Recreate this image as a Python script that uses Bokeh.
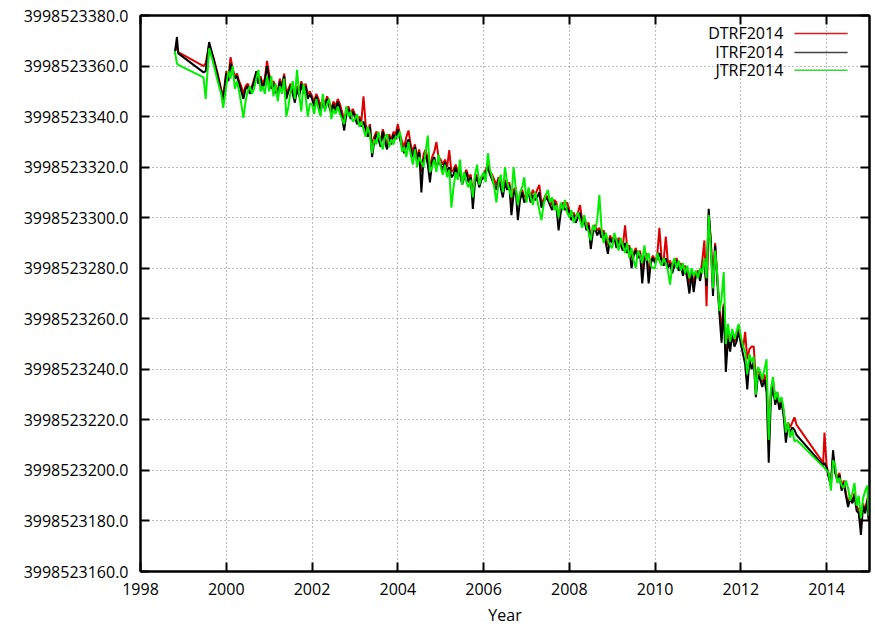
from bokeh.plotting import figure
from bokeh.models import (Range1d, FixedTicker, LinearAxis, CustomJSTickFormatter, Label, Arrow,
                          CustomLabelingPolicy)
from bokeh.embed import file_html
from bokeh.resources import INLINE
import numpy as np

BASE = 3998523000.0  # offsets below are in the same units as the axis, relative to BASE

X_TICKS = [1998, 2000, 2002, 2004, 2006, 2008, 2010, 2012, 2014]
Y_TICKS = [3998523160, 3998523180, 3998523200, 3998523220, 3998523240, 3998523260,
           3998523280, 3998523300, 3998523320, 3998523340, 3998523360, 3998523380]

YEARS = [
    1998.80, 1998.85, 1998.88, 1999.47, 1999.52, 1999.60, 1999.70, 1999.80, 1999.88, 1999.93,
    2000.00, 2000.05, 2000.10, 2000.15, 2000.20, 2000.25, 2000.30, 2000.35, 2000.40, 2000.45,
    2000.50, 2000.55, 2000.60, 2000.65, 2000.70, 2000.75, 2000.80, 2000.85, 2000.90, 2000.95,
    2001.00, 2001.05, 2001.10, 2001.15, 2001.20, 2001.25, 2001.30, 2001.35, 2001.40, 2001.45,
    2001.50, 2001.55, 2001.60, 2001.65, 2001.70, 2001.75, 2001.80, 2001.85, 2001.90, 2001.95,
    2002.00, 2002.05, 2002.10, 2002.15, 2002.20, 2002.25, 2002.30, 2002.35, 2002.40, 2002.45,
    2002.50, 2002.55, 2002.60, 2002.65, 2002.70, 2002.75, 2002.80, 2002.85, 2002.90, 2002.95,
    2003.00, 2003.05, 2003.10, 2003.15, 2003.20, 2003.25, 2003.30, 2003.35, 2003.40, 2003.45,
    2003.50, 2003.55, 2003.60, 2003.65, 2003.70, 2003.75, 2003.80, 2003.85, 2003.90, 2003.95,
    2004.00, 2004.05, 2004.10, 2004.15, 2004.20, 2004.25, 2004.30, 2004.35, 2004.40, 2004.45,
    2004.50, 2004.55, 2004.60, 2004.65, 2004.70, 2004.75, 2004.80, 2004.85, 2004.90, 2004.95,
    2005.00, 2005.05, 2005.10, 2005.15, 2005.20, 2005.25, 2005.30, 2005.35, 2005.40, 2005.45,
    2005.50, 2005.55, 2005.60, 2005.65, 2005.70, 2005.75, 2005.80, 2005.85, 2005.90, 2005.95,
    2006.00, 2006.05, 2006.10, 2006.15, 2006.20, 2006.25, 2006.30, 2006.35, 2006.40, 2006.45,
    2006.50, 2006.55, 2006.60, 2006.65, 2006.70, 2006.75, 2006.80, 2006.85, 2006.90, 2006.95,
    2007.00, 2007.05, 2007.10, 2007.15, 2007.20, 2007.25, 2007.30, 2007.35, 2007.40, 2007.45,
    2007.50, 2007.55, 2007.60, 2007.65, 2007.70, 2007.75, 2007.80, 2007.85, 2007.90, 2007.95,
    2008.00, 2008.05, 2008.10, 2008.15, 2008.20, 2008.25, 2008.30, 2008.35, 2008.40, 2008.45,
    2008.50, 2008.55, 2008.60, 2008.65, 2008.70, 2008.75, 2008.80, 2008.85, 2008.90, 2008.95,
    2009.00, 2009.05, 2009.10, 2009.15, 2009.20, 2009.25, 2009.30, 2009.35, 2009.40, 2009.45,
    2009.50, 2009.55, 2009.60, 2009.65, 2009.70, 2009.75, 2009.80, 2009.85, 2009.90, 2009.95,
    2010.00, 2010.05, 2010.10, 2010.15, 2010.20, 2010.25, 2010.30, 2010.35, 2010.40, 2010.45,
    2010.50, 2010.55, 2010.60, 2010.65, 2010.70, 2010.75, 2010.80, 2010.85, 2010.90, 2010.95,
    2011.00, 2011.05, 2011.10, 2011.15, 2011.20, 2011.25, 2011.30, 2011.35, 2011.40, 2011.45,
    2011.50, 2011.55, 2011.60, 2011.65, 2011.70, 2011.75, 2011.80, 2011.85, 2011.90, 2011.95,
    2012.00, 2012.05, 2012.10, 2012.15, 2012.20, 2012.25, 2012.30, 2012.35, 2012.40, 2012.45,
    2012.50, 2012.55, 2012.60, 2012.65, 2012.70, 2012.75, 2012.80, 2012.85, 2012.90, 2012.95,
    2013.00, 2013.05, 2013.10, 2013.15, 2013.20, 2013.25, 2013.30,
    2013.92, 2013.95, 2014.00, 2014.05, 2014.10, 2014.15, 2014.20, 2014.25, 2014.30, 2014.35,
    2014.40, 2014.45, 2014.50, 2014.55, 2014.60, 2014.65, 2014.70, 2014.75, 2014.80, 2014.85,
    2014.90, 2014.95, 2014.98,
]

# DTRF2014 (red)
DTRF = [
    365.5, 368.0, 365.5, 360.0, 361.0, 368.5, 363.5, 357.0, 351.0, 348.0,
    358, 355, 363.5, 359, 356, 357, 354, 352, 349, 352, 353, 351, 352, 355, 357, 354, 356, 353, 355, 362,
    357, 353, 354, 352, 350, 355, 352, 357, 349, 351, 353, 351, 348, 352, 349, 354, 351, 353, 349, 350,
    348, 346, 349, 347, 344, 347, 345, 348, 346, 343, 346, 344, 347, 345, 342, 338, 343, 344, 341, 343,
    341, 339, 340, 338, 348, 337, 334, 337, 328, 332, 334, 333, 330, 335, 332, 329, 333, 331, 334, 333,
    337, 333, 330, 328, 332, 334.5, 329, 326, 329, 324, 327, 318, 325, 327, 323, 320, 324, 326, 330, 324,
    323, 321, 323, 320, 326.7, 318, 319, 321, 318, 319, 315, 317, 319, 316, 317, 309, 316, 317, 314, 316,
    317, 319, 321, 318, 317, 315, 313, 316, 314, 311, 315, 313, 314, 306, 311, 312, 305, 309, 311, 308,
    309, 311, 308, 311, 309, 311, 313, 306, 307, 309, 308, 307, 305, 307, 306, 300, 304, 306, 305, 306,
    303, 301, 302, 300, 302, 305, 299, 300, 297, 298, 292, 296, 297, 295, 296, 294, 295, 292, 289, 293,
    291, 293, 290, 292, 291, 289, 297, 288, 289, 284, 286, 288, 285, 287, 279, 284, 286, 279, 283, 285,
    283, 285, 296, 284, 283, 292.5, 282, 283, 280, 282, 284, 281, 282, 279, 281, 278, 274, 279, 274, 278,
    279, 277, 283, 291, 265, 301, 291, 274, 290, 277, 264, 256, 266, 246, 254, 250, 255, 251, 252, 257,
    252, 248, 254.8, 244, 248, 249, 249, 236, 240, 238, 235, 238, 234, 216, 231, 235, 229, 231, 226, 228,
    223, 216, 219, 217, 219, 221, 218,
    203, 215, 202, 198, 195, 206, 200, 197, 199, 193, 196, 191, 187, 190, 188, 191, 186, 184, 178, 187,
    184, 189, 181,
]

# ITRF2014 (black)
ITRF = [
    365.0, 371.5, 365.0, 357.5, 358.0, 369.5, 363.0, 356.0, 350.0, 346.5,
    357, 354, 361, 358, 355, 356, 353, 350, 347, 351, 352, 349, 351, 354, 358, 353, 355, 351, 354, 360,
    355, 351, 353, 350, 348, 354, 351, 356, 347, 350, 352, 349, 345.5, 351, 348, 353, 349, 352, 347, 349,
    347, 344, 348, 345, 342, 346, 343, 347, 344, 341, 345, 342, 346, 343, 340, 334.5, 341, 343, 339, 342,
    340, 337, 339, 336, 338, 335, 332, 336, 324, 330, 333, 331, 328, 334, 330, 327, 332, 329, 333, 331,
    335, 331, 328, 325.5, 329, 331, 327, 324, 328, 322, 326, 310, 323, 325, 321, 314, 322, 324, 320, 322,
    321, 319, 322, 318, 320, 316, 317, 320, 316, 318, 313, 316, 318, 314, 316, 303.5, 314, 316, 312, 315,
    316, 318, 320, 317, 315, 313, 311, 315, 312, 308, 314, 311, 313, 301, 309, 311, 299, 307, 310, 306,
    308, 310, 306, 309, 307, 308, 310, 304, 306, 308, 307, 305, 303, 306, 304, 295, 302, 305, 303, 304,
    302, 299, 301, 298, 300, 302, 297, 299, 295, 297, 287.6, 294, 296, 293, 295, 292, 294, 290, 285.7, 292,
    290, 292, 288, 291, 289, 287, 290, 286, 288, 280, 285, 287, 284, 286, 274, 283, 285, 274, 282, 284,
    282, 284, 286, 283, 281, 284, 280, 282, 278, 281, 283, 279, 281, 277, 280, 276, 270, 278, 270.5, 277,
    278, 275, 280, 282, 273, 303.5, 290, 269, 289, 275, 262, 250.5, 265, 239, 252, 247, 254, 249, 251, 255,
    250, 246, 242, 232, 244, 240, 243, 229, 238, 236, 233, 236, 231, 203, 228, 233, 226, 229, 224, 227,
    221, 211, 218, 215, 217, 216, 214,
    202, 203, 201, 197, 194, 208, 199, 196, 198, 192, 195, 190, 185.5, 189, 187, 190, 184, 183, 174.5, 186,
    183, 188, 180,
]

# JTRF2014 (green)
JTRF = [
    366.0, 361.0, 360.5, 355.5, 347.0, 367.0, 361.0, 354.0, 349.0, 343.5,
    352, 358, 355, 360, 351, 354, 350, 345, 339.5, 346, 350, 352, 349, 351, 355, 358.5, 350, 352, 349, 356,
    350, 356, 348, 353, 346, 352, 349, 355, 340, 344, 350, 354, 347, 358.5, 349, 342, 353, 348, 340, 345,
    345, 341, 347, 343, 340, 349, 342, 345, 347, 339, 343, 341, 344, 341, 339, 337, 344, 340, 342, 338,
    339, 341, 336, 338, 335, 332, 336, 333, 325.5, 331, 329, 334, 330, 327, 332, 333, 328, 331, 329, 332,
    332, 334, 326, 328, 324, 330, 325, 321, 327, 320, 324, 322, 320, 326, 332.5, 318, 320, 323, 318, 325,
    320, 317, 321, 316, 319, 304, 312, 318, 315, 323, 313, 318, 314, 312, 315, 308, 317, 321, 313, 316,
    318, 314, 325.5, 319, 316, 312, 306, 314, 317, 310, 320, 314, 311, 308, 320, 312, 305, 310, 312, 316,
    306, 312, 308, 305, 310, 307, 303, 299, 305, 309, 311, 306, 308, 303, 305, 300, 306, 303, 307, 302,
    300, 303, 298, 300, 302, 299, 296, 301, 297, 294, 291, 297, 295, 299, 309, 296, 290, 294, 291, 289,
    288, 294, 291, 287, 292, 289, 286, 290, 284, 288, 283, 280, 287, 285, 282, 289, 283, 286, 281, 280,
    280, 286, 283, 281, 284, 282, 279, 273.5, 281, 284, 280, 283, 279, 282, 278, 281, 276, 280, 277, 279,
    276, 280, 278, 284, 276, 301, 287, 272, 287, 278, 263, 268, 278.5, 250, 258, 251, 256, 252, 255, 258,
    253, 249, 247, 238, 246, 243, 245, 230, 241, 239, 236, 240, 244, 212, 232, 237, 228, 231, 227, 229,
    224, 215, 219, 213, 216, 211.5, 212,
    201.5, 201, 200, 199, 192, 204, 202, 195, 197, 194, 193, 196, 193, 188, 191, 195, 186, 190, 181, 189,
    192, 194, 182,
]

SERIES = ["DTRF2014", "ITRF2014", "JTRF2014"]
COLORS = ["#dd0000", "#000000", "#00ee00"]
LEGEND_COLORS = ["#dd1a1a", "#444444", "#33dd33"]
X_LABEL = "Year"

FONT = "Open Sans"

p = figure(width=874, height=628,
           x_range=Range1d(1998, 2015),
           y_range=Range1d(Y_TICKS[0], Y_TICKS[-1]),
           output_backend="svg", toolbar_location=None,
           min_border_left=140, min_border_right=5,
           min_border_top=15, min_border_bottom=56,
           background_fill_color="white", border_fill_color="white")

x = np.array(YEARS)
for name, vals, col in zip(SERIES, [DTRF, ITRF, JTRF], COLORS):
    p.line(x, BASE + np.array(vals, dtype=float), line_color=col, line_width=2.0)

# axes
p.xaxis.ticker = FixedTicker(ticks=X_TICKS)
p.yaxis.ticker = FixedTicker(ticks=Y_TICKS)
p.yaxis.formatter = CustomJSTickFormatter(code="return tick.toFixed(1);")
p.xaxis.axis_label = X_LABEL

for ax in [p.xaxis[0], p.yaxis[0]]:
    ax.axis_line_width = 2
    ax.axis_line_color = "black"
    ax.major_tick_in = 9
    ax.major_tick_out = 0
    ax.major_tick_line_width = 2
    ax.minor_tick_line_color = None
    ax.major_label_text_font = FONT
    ax.major_label_text_font_size = "16px"
    ax.major_label_text_color = "black"
    ax.major_label_text_line_height = 1.0
    ax.axis_label_text_font = FONT
    ax.axis_label_text_font_size = "16px"
    ax.axis_label_text_font_style = "normal"
    ax.axis_label_text_color = "black"
    ax.axis_label_text_line_height = 1.0
p.yaxis.major_label_standoff = 12
p.xaxis.major_label_standoff = 11
p.xaxis.axis_label_standoff = 6

# mirrored inward ticks on the top and right sides, without labels
no_labels = CustomLabelingPolicy(code="return new Set()")
top = LinearAxis(ticker=FixedTicker(ticks=X_TICKS), major_label_policy=no_labels)
right = LinearAxis(ticker=FixedTicker(ticks=Y_TICKS), major_label_policy=no_labels)
for ax in [top, right]:
    ax.axis_line_width = 2
    ax.major_tick_in = 9
    ax.major_tick_out = 0
    ax.major_tick_line_width = 2
    ax.minor_tick_line_color = None
    ax.major_label_standoff = 0
    ax.major_label_text_font_size = "0px"
p.add_layout(top, "above")
p.add_layout(right, "right")

p.outline_line_color = "black"
p.outline_line_width = 2

for g in [p.xgrid[0], p.ygrid[0]]:
    g.grid_line_color = "#777777"
    g.grid_line_dash = "1 3"
    g.grid_line_width = 1

# legend (gnuplot style: text then sample line)
LEG_X_TEXT = 2012.99
LEG_X0, LEG_X1 = 2013.25, 2014.49
LEG_Y = [BASE + 372.9, BASE + 365.4, BASE + 358.3]
for name, col, yy in zip(SERIES, LEGEND_COLORS, LEG_Y):
    p.add_layout(Label(x=LEG_X_TEXT, y=yy, text=name, text_align="right",
                       text_baseline="middle", text_font=FONT,
                       text_font_size="16px", text_color="black"))
    p.add_layout(Arrow(x_start=LEG_X0, y_start=yy, x_end=LEG_X1, y_end=yy,
                       start=None, end=None, line_color=col, line_width=1.5))

open("out.html", "w").write(file_html(p, INLINE))
